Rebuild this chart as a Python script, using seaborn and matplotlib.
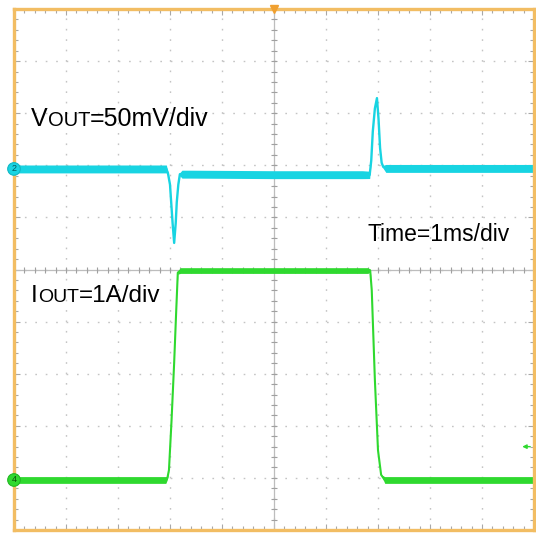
import numpy as np
import pandas as pd
import matplotlib
matplotlib.use("Agg")
import matplotlib.pyplot as plt
import seaborn as sns
from matplotlib.ticker import MultipleLocator, NullFormatter

# ---------------- data (time in ms, trigger at centre) ----
vout_t = [-5.0, -2.07, -2.04, -2.00, -1.98, -1.95, -1.92, -1.89, -1.87, -1.84,
          -1.81, -1.77, -1.60, 0.0, 1.70, 1.84, 1.87, 1.90, 1.94, 1.98, 2.01,
          2.04, 2.07, 2.10, 2.15, 3.0, 5.0]
vout_mv = [0.0, 0.0, -4.0, -15.0, -30.0, -52.0, -71.0, -52.0, -32.0, -15.0,
           -5.0, -5.0, -5.0, -5.5, -5.5, -5.7, 8.0, 36.0, 58.0, 68.0, 48.0,
           20.0, 6.0, 2.0, 0.5, 0.5, 0.5]
vout_noise_mv = [3.8, 3.8, 1.0, 0.0, 0.0, 0.0, 0.0, 0.0, 0.0, 0.0,
                 1.5, 3.8, 3.8, 3.8, 3.8, 3.5, 0.0, 0.0, 0.0, 0.0, 0.0,
                 0.0, 0.0, 1.5, 3.8, 3.8, 3.8]

iout_t = [-5.0, -2.08, -2.05, -2.02, -1.97, -1.92, -1.88, -1.85, -1.80, 0.0,
          1.80, 1.85, 1.88, 1.94, 2.00, 2.06, 2.13, 5.0]
iout_a = [0.0, 0.0, 0.04, 0.19, 1.15, 2.25, 3.26, 3.98, 4.02, 4.02,
          4.02, 4.02, 3.64, 1.92, 0.57, 0.10, 0.0, 0.0]
iout_noise_a = [0.065, 0.065, 0.03, 0.0, 0.0, 0.0, 0.0, 0.03, 0.055, 0.055,
                0.055, 0.03, 0.0, 0.0, 0.0, 0.0, 0.065, 0.065]

V_SCALE = 50.0      # mV/div
I_SCALE = 1.0       # A/div
T_SCALE = 1.0       # ms/div
CH2_ZERO_DIV = 6.93
CH4_ZERO_DIV = 0.96
CH4_TRIG_DIV = 1.60

label_vout = ["V", "OUT", "=50mV/div"]
label_iout = ["I", "OUT", "=1A/div"]
label_time = "Time=1ms/div"

CYAN = "#18d4e2"
GREEN = "#2fd92f"
FRAME = "#f2bd63"
GRID = "#c4c4c4"
TICK = "#a8a8a8"

# ---------------- figure ----------------
W, H = 536, 533
sns.set_theme(style="white")
plt.rcParams["font.family"] = ["Liberation Sans", "DejaVu Sans"]
plt.rcParams["lines.scale_dashes"] = False

fig = plt.figure(figsize=(W / 100, H / 100), dpi=100)
fig.patch.set_facecolor("white")
ax = fig.add_axes([14 / W, 3 / H, 520 / W, 521 / H])
ax.set_facecolor("white")
ax.set_xlim(0, 10)
ax.set_ylim(0, 10)

# graticule
ax.xaxis.set_major_locator(MultipleLocator(1))
ax.yaxis.set_major_locator(MultipleLocator(1))
ax.xaxis.set_minor_locator(MultipleLocator(0.2))
ax.yaxis.set_minor_locator(MultipleLocator(0.2))
ax.xaxis.set_major_formatter(NullFormatter())
ax.yaxis.set_major_formatter(NullFormatter())
ax.tick_params(which="both", direction="in", top=True, right=True,
               bottom=True, left=True, color=TICK, width=0.8)
ax.tick_params(which="major", length=4.5)
ax.tick_params(which="minor", length=3.0)
ax.grid(True, which="major", color=GRID, linewidth=1.0,
        linestyle=(0, (1.2, 6.3)))
for s in ax.spines.values():
    s.set_color(FRAME)
    s.set_linewidth(2.4)
    s.set_zorder(6)

# centre cross with fine ticks
ax.axvline(5, color="#bdbdbd", lw=0.9, zorder=1)
ax.axhline(5, color="#bdbdbd", lw=0.9, zorder=1)
pos = np.arange(0.2, 10.0, 0.2)
ax.plot(pos, np.full_like(pos, 5.0), ls="none", marker="|", ms=4.5,
        mew=0.8, color="#a0a0a0", zorder=1)
ax.plot(np.full_like(pos, 5.0), pos, ls="none", marker="_", ms=4.5,
        mew=0.8, color="#a0a0a0", zorder=1)

# ---------------- traces ----------------
vt = np.array(vout_t) / T_SCALE + 5
vy = np.array(vout_mv) / V_SCALE + CH2_ZERO_DIV
vn = np.array(vout_noise_mv) / V_SCALE
it = np.array(iout_t) / T_SCALE + 5
iy = np.array(iout_a) / I_SCALE + CH4_ZERO_DIV
inz = np.array(iout_noise_a) / I_SCALE

df_v = pd.DataFrame({"x": vt, "y": vy})
df_i = pd.DataFrame({"x": it, "y": iy})

ax.fill_between(vt, vy - vn, vy + vn, color=CYAN, lw=0, zorder=3)
sns.lineplot(data=df_v, x="x", y="y", ax=ax, color=CYAN, lw=1.7,
             sort=False, estimator=None, zorder=3)
ax.fill_between(it, iy - inz, iy + inz, color=GREEN, lw=0, zorder=3)
sns.lineplot(data=df_i, x="x", y="y", ax=ax, color=GREEN, lw=1.5,
             sort=False, estimator=None, zorder=3)
ax.set_xlabel("")
ax.set_ylabel("")

# channel markers
ax.text(0, CH2_ZERO_DIV, "2", ha="center", va="center", fontsize=6.5,
        color="#005a60", clip_on=False, zorder=8,
        bbox=dict(boxstyle="circle,pad=0.2", fc=CYAN, ec="#10b8c4", lw=0.8))
ax.text(0, CH4_ZERO_DIV, "4", ha="center", va="center", fontsize=6.5,
        color="#0a500a", clip_on=False, zorder=8,
        bbox=dict(boxstyle="circle,pad=0.2", fc=GREEN, ec="#22b822", lw=0.8))
ax.annotate("", xy=(9.72, CH4_TRIG_DIV), xytext=(9.98, CH4_TRIG_DIV),
            arrowprops=dict(arrowstyle="-|>", color=GREEN, lw=1.0,
                            mutation_scale=6), zorder=8)
ax.plot([5], [10], marker="v", ms=6, color="#f0a030", clip_on=False,
        zorder=9)

# ---------------- labels ----------------
fig.canvas.draw()
renderer = fig.canvas.get_renderer()


def chain(parts, sizes, x_px, base_px):
    x = x_px
    for p, s in zip(parts, sizes):
        t = fig.text(x / W, 1 - base_px / H, p, fontsize=s, color="black",
                     ha="left", va="baseline")
        bb = t.get_window_extent(renderer)
        x = bb.x1


chain(label_vout, [18, 14.5, 18], 31, 126)
chain(label_iout, [17.5, 14, 17.5], 31, 302)
fig.text(368 / W, 1 - 241 / H, label_time, fontsize=16.5, color="black",
         ha="left", va="baseline")

fig.savefig("out.png", dpi=100, facecolor="white")
